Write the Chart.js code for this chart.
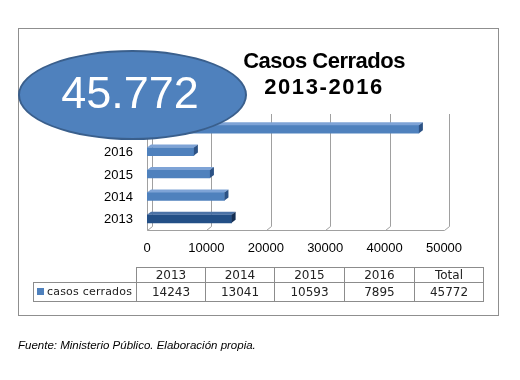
<!DOCTYPE html>
<html><head><meta charset="utf-8">
<script src="https://cdn.jsdelivr.net/npm/chart.js@4/dist/chart.umd.min.js"></script>
<style>
html,body{margin:0;padding:0;background:#fff;}
#wrap{position:relative;width:520px;height:380px;overflow:hidden;font-family:"Liberation Sans",Arial,sans-serif;}
#frame{position:absolute;left:18px;top:28px;width:481px;height:288px;box-sizing:border-box;border:1px solid #8f8f8f;z-index:0}
#c{position:absolute;left:0;top:0;z-index:1}
#ellipse{position:absolute;left:18px;top:50px;width:229px;height:90px;box-sizing:border-box;border:2px solid #3a5f8c;border-radius:50%;background:#4f81bd;z-index:2}
#big{position:absolute;left:30px;top:70px;width:200px;text-align:center;font-size:45px;line-height:45px;color:#fff;z-index:3;white-space:nowrap}
#title{position:absolute;left:224px;top:48px;width:200px;text-align:center;font-weight:bold;font-size:22px;line-height:26px;color:#000;z-index:2;white-space:nowrap}
#title .l1{letter-spacing:-0.5px}
#title .l2{letter-spacing:1.6px}
#tbl{position:absolute;left:33px;top:267px;width:451px;border-collapse:collapse;table-layout:fixed;font-family:"DejaVu Sans",sans-serif;font-size:12px;color:#222;z-index:2}
#tbl td{border:1px solid #8c8c8c;padding:0;text-align:center;white-space:nowrap;overflow:hidden}
#tbl tr.h td{height:14px;line-height:14px}
#tbl tr.d td{height:18px;line-height:18px}
#tbl td.empty{border-top:none;border-left:none;border-bottom:none}
#tbl td.leg{text-align:left;padding-left:3px;font-size:11px;letter-spacing:0.2px}
#tbl td.leg i{display:inline-block;width:7px;height:7px;background:#4f81bd;margin-right:3px;vertical-align:0px}
#foot{position:absolute;left:18px;top:339px;font-style:italic;font-size:11.5px;line-height:13px;color:#000;z-index:2;white-space:nowrap}
</style></head>
<body>
<div id="wrap">
  <div id="frame"></div>
  <canvas id="c" width="520" height="380"></canvas>
  <div id="ellipse"></div>
  <div id="big"></div>
  <div id="title"></div>
  <table id="tbl"></table>
  <div id="foot"></div>
</div>
<script>
const categories = ['2013', '2014', '2015', '2016', 'Total'];
const casosCerrados = [14243, 13041, 10593, 7895, 45772];
const xTickValues = [0, 10000, 20000, 30000, 40000, 50000];
const seriesName = 'casos cerrados';
const titleLines = ['Casos Cerrados', '2013-2016'];
const footnote = 'Fuente: Ministerio Público. Elaboración propia.';

function fmtDots(n){ return String(n).replace(/\B(?=(\d{3})+(?!\d))/g, '.'); }

const totalIdx = categories.indexOf('Total');
document.getElementById('big').textContent = fmtDots(casosCerrados[totalIdx]);
document.getElementById('title').innerHTML =
  '<div class="l1"></div><div class="l2"></div>';
document.querySelector('#title .l1').textContent = titleLines[0];
document.querySelector('#title .l2').textContent = titleLines[1];
document.getElementById('foot').textContent = footnote;

// table
const tbl = document.getElementById('tbl');
const colW = [103, 69, 69, 70, 70, 69];
const cg = document.createElement('colgroup');
colW.forEach(w => { const c = document.createElement('col'); c.style.width = w + 'px'; cg.appendChild(c); });
tbl.appendChild(cg);
const trh = document.createElement('tr'); trh.className = 'h';
const e = document.createElement('td'); e.className = 'empty'; trh.appendChild(e);
categories.forEach(c => { const td = document.createElement('td'); td.textContent = c; trh.appendChild(td); });
tbl.appendChild(trh);
const trd = document.createElement('tr'); trd.className = 'd';
const lg = document.createElement('td'); lg.className = 'leg';
lg.appendChild(document.createElement('i'));
lg.appendChild(document.createTextNode(seriesName));
trd.appendChild(lg);
casosCerrados.forEach(v => { const td = document.createElement('td'); td.textContent = v; trd.appendChild(td); });
tbl.appendChild(trd);

const DEPTH_X = 4, DEPTH_Y = 3;
const light = {front:'#4f81bd', top:'#7ea3d6', side:'#2c5285'};
const dark = {front:'#234f86', top:'#4b72a6', side:'#152f54'};
const pal = i => i === 0 ? dark : light;

const threeD = {
  id: 'threeD',
  beforeDatasetsDraw(chart){
    const {ctx, chartArea: ca, scales: {x}} = chart;
    const dx = 5, dy = 4;
    ctx.save();
    ctx.strokeStyle = '#a0a0a0'; ctx.lineWidth = 1;
    ctx.beginPath();
    const bottom = Math.round(ca.bottom) + 0.5;
    let lastPx = 0;
    x.ticks.forEach(t => {
      const px = Math.round(x.getPixelForValue(t.value)) + 0.5;
      lastPx = px;
      ctx.moveTo(px + dx, ca.top - dy);
      ctx.lineTo(px + dx, bottom - dy);
      ctx.lineTo(px, bottom);
    });
    const l = Math.round(ca.left) + 0.5;
    ctx.moveTo(l, ca.top); ctx.lineTo(l, bottom);
    ctx.moveTo(l, bottom); ctx.lineTo(lastPx, bottom);
    ctx.stroke();
    ctx.restore();
  },
  afterDatasetsDraw(chart){
    const {ctx} = chart;
    const meta = chart.getDatasetMeta(0);
    ctx.save();
    meta.data.forEach((bar, i) => {
      const {x, y, base, height} = bar.getProps(['x', 'y', 'base', 'height'], true);
      const t = y - height / 2, b = y + height / 2;
      const p = pal(i);
      ctx.fillStyle = p.top;
      ctx.beginPath();
      ctx.moveTo(base, t); ctx.lineTo(x, t); ctx.lineTo(x + DEPTH_X, t - DEPTH_Y); ctx.lineTo(base + DEPTH_X, t - DEPTH_Y);
      ctx.closePath(); ctx.fill();
      ctx.fillStyle = p.side;
      ctx.beginPath();
      ctx.moveTo(x, t); ctx.lineTo(x + DEPTH_X, t - DEPTH_Y); ctx.lineTo(x + DEPTH_X, b - DEPTH_Y); ctx.lineTo(x, b);
      ctx.closePath(); ctx.fill();
    });
    ctx.restore();
  }
};

new Chart(document.getElementById('c'), {
  type: 'bar',
  data: {
    labels: categories,
    datasets: [{
      label: seriesName,
      data: casosCerrados,
      backgroundColor: ctx => pal(ctx.dataIndex).front,
      borderWidth: 0,
      barThickness: 8
    }]
  },
  options: {
    indexAxis: 'y',
    responsive: false,
    animation: false,
    devicePixelRatio: 1,
    layout: {padding: {left: 100, right: 76, top: 118, bottom: 120}},
    plugins: {legend: {display: false}, tooltip: {enabled: false}, title: {display: false}},
    scales: {
      y: {
        reverse: true,
        grid: {display: false, drawTicks: false},
        border: {display: false},
        ticks: {color: '#000', font: {family: 'Liberation Sans', size: 13}, padding: 14, labelOffset: 1},
        afterFit: s => { s.width = 47; }
      },
      x: {
        min: xTickValues[0],
        max: xTickValues[xTickValues.length - 1],
        grid: {display: false, drawTicks: false},
        border: {display: false},
        ticks: {
          stepSize: xTickValues[1] - xTickValues[0],
          callback: v => String(v),
          color: '#000', font: {family: 'Liberation Sans', size: 13}, padding: 11, maxRotation: 0
        },
        afterFit: s => { s.height = 30; }
      }
    }
  },
  plugins: [threeD]
});
</script>
</body></html>
